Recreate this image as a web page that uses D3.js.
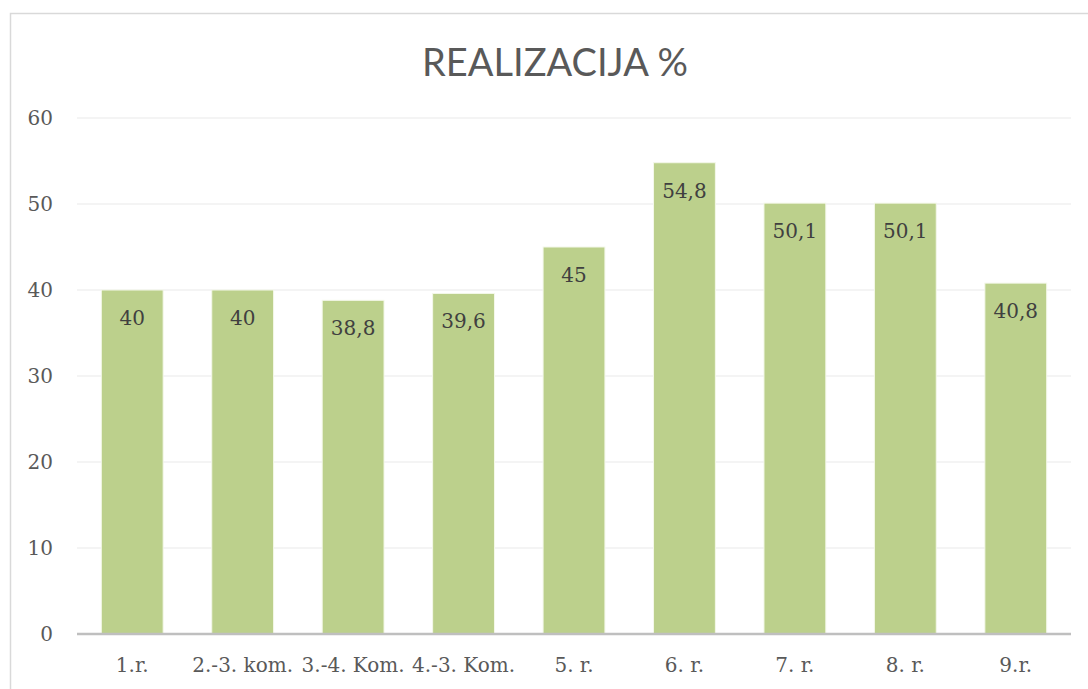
<!DOCTYPE html>
<html>
<head>
<meta charset="utf-8">
<style type="text/css">
    body { margin: 0; background: #fff; }
</style>
</head>
<body>
<svg width="1088" height="689"></svg>
<script src="https://cdn.jsdelivr.net/npm/d3@7"></script>
<script type="text/javascript">

    // podaci
    const categories = ["1.r.", "2.-3. kom.", "3.-4. Kom.", "4.-3. Kom.", "5. r.", "6. r.", "7. r.", "8. r.", "9.r."];
    const values = [40, 40, 38.8, 39.6, 45, 54.8, 50.1, 50.1, 40.8];
    const yTicks = [0, 10, 20, 30, 40, 50, 60];
    const title = "REALIZACIJA %";

    var svg = d3.select("svg"),
        width = +svg.attr("width"),
        height = +svg.attr("height");

    var margin = { left: 77, right: 17, top: 118, bottom: 55 };

    // chart frame (only left and top visible)
    svg.append("rect")
        .attr("x", 10.5).attr("y", 13.5)
        .attr("width", 1100).attr("height", 700)
        .attr("fill", "none")
        .attr("stroke", "#d9d9d9")
        .attr("stroke-width", 1.5);

    svg.append("text")
        .attr("x", 555).attr("y", 76)
        .attr("text-anchor", "middle")
        .attr("font-family", "Lato, 'Open Sans', sans-serif")
        .attr("font-size", 38)
        .attr("fill", "#595959")
        .text(title);

    var x = d3.scaleBand()
        .domain(categories)
        .range([margin.left, width - margin.right])
        .paddingInner(0.44)
        .paddingOuter(0.22);

    var y = d3.scaleLinear()
        .domain([0, 60])
        .range([height - margin.bottom, margin.top]);

    // gridlines
    svg.append("g")
        .selectAll("line")
        .data(yTicks.filter(d => d > 0))
        .enter()
        .append("line")
        .attr("x1", margin.left).attr("x2", width - margin.right)
        .attr("y1", d => y(d)).attr("y2", d => y(d))
        .attr("stroke", "#f0f0f0")
        .attr("stroke-width", 1.5);

    // y axis labels
    var yAxis = d3.axisLeft(y).tickValues(yTicks).tickSize(0).tickPadding(0);
    var yg = svg.append("g")
        .attr("transform", "translate(53,0)")
        .call(yAxis);
    yg.select(".domain").remove();
    yg.selectAll("text")
        .attr("font-family", "'DejaVu Serif', serif")
        .attr("font-size", 20)
        .attr("fill", "#595959");

    // bars
    svg.append("g")
        .selectAll("rect")
        .data(values)
        .enter()
        .append("rect")
        .attr("x", (d, i) => x(categories[i]))
        .attr("y", d => y(d))
        .attr("width", x.bandwidth())
        .attr("height", d => y(0) - y(d))
        .attr("fill", "#bcd08c")
        .attr("stroke", "#f4f8ea")
        .attr("stroke-width", 1);

    // value labels
    svg.append("g")
        .selectAll("text")
        .data(values)
        .enter()
        .append("text")
        .attr("x", (d, i) => x(categories[i]) + x.bandwidth() / 2)
        .attr("y", d => y(d) + 35)
        .attr("text-anchor", "middle")
        .attr("font-family", "'DejaVu Serif', serif")
        .attr("font-size", 20)
        .attr("fill", "#404040")
        .text(d => String(d).replace(".", ","));

    // baseline
    svg.append("line")
        .attr("x1", margin.left).attr("x2", width - margin.right)
        .attr("y1", y(0)).attr("y2", y(0))
        .attr("stroke", "#bfbfbf")
        .attr("stroke-width", 2.5);

    // x axis labels
    var xAxis = d3.axisBottom(x).tickSize(0).tickPadding(0);
    var xg = svg.append("g")
        .attr("transform", "translate(0," + (y(0) + 38) + ")")
        .call(xAxis);
    xg.select(".domain").remove();
    xg.selectAll("text")
        .attr("dy", 0)
        .attr("font-family", "'DejaVu Serif', serif")
        .attr("font-size", 20)
        .attr("fill", "#595959");

</script>
</body>
</html>
